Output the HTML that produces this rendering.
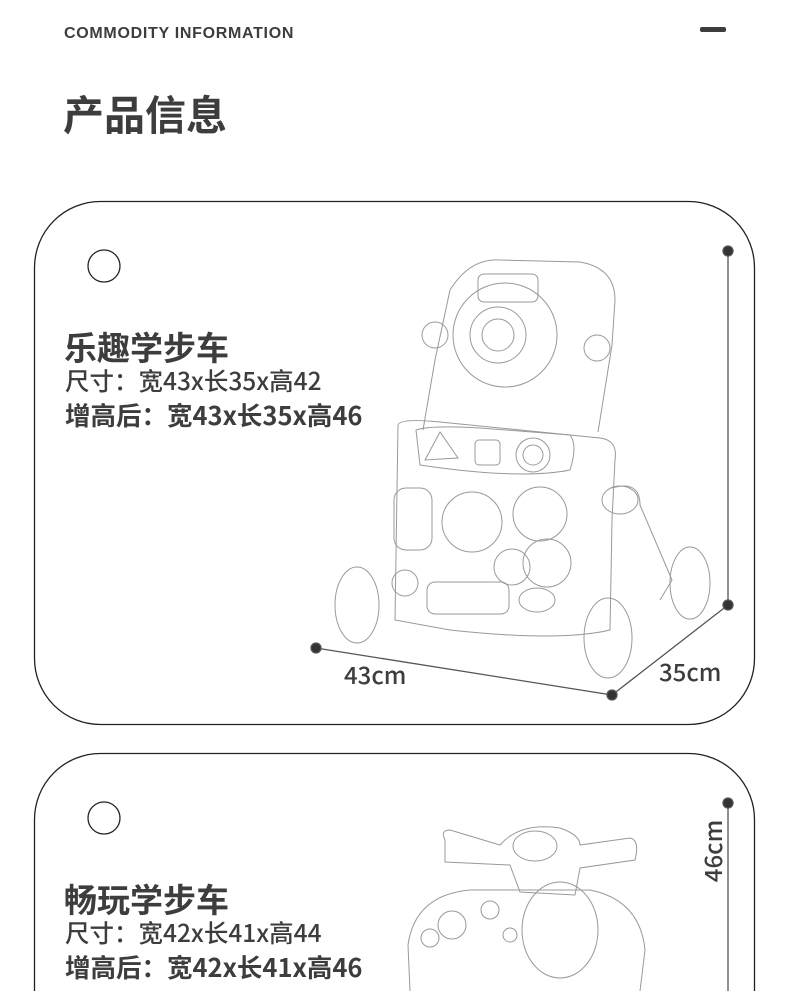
<!DOCTYPE html>
<html><head><meta charset="utf-8"><style>
html,body{margin:0;padding:0;background:#fff;}
body{width:790px;height:991px;overflow:hidden;position:relative;font-family:"Liberation Sans","Noto Sans CJK SC",sans-serif;color:#3d3d3d;}
.t{position:absolute;white-space:nowrap;line-height:1;}
.c{font-family:"Noto Sans CJK SC",sans-serif;}
</style></head><body>
<svg width="790" height="991" style="position:absolute;left:0;top:0" xmlns="http://www.w3.org/2000/svg">
<rect x="700" y="27" width="26" height="5" rx="2" fill="#3d3d3d"/>
<rect x="34.5" y="201.5" width="720" height="523" rx="66" fill="none" stroke="#222" stroke-width="1.3"/>
<rect x="34.5" y="753.5" width="720" height="400" rx="66" fill="none" stroke="#222" stroke-width="1.3"/>
<circle cx="104" cy="266" r="16" fill="none" stroke="#222" stroke-width="1.3"/>
<circle cx="104" cy="818" r="16" fill="none" stroke="#222" stroke-width="1.3"/>
<g stroke="#555" stroke-width="1.3" fill="#333">
<line x1="728" y1="251" x2="728" y2="605"/>
<line x1="316" y1="648" x2="612" y2="695"/>
<line x1="612" y1="695" x2="728" y2="605"/>
<circle cx="728" cy="251" r="5"/><circle cx="728" cy="605" r="5"/>
<circle cx="316" cy="648" r="5"/><circle cx="612" cy="695" r="5"/>
<line x1="728" y1="803" x2="728" y2="991"/>
<circle cx="728" cy="803" r="5"/>
</g>
<g fill="none" stroke="#999" stroke-width="1">
<path d="M450 290 Q470 258 500 260 L580 262 Q615 268 615 300 L612 345 L598 432"/>
<path d="M450 290 L435 360 L423 430"/>
<rect x="478" y="274" width="60" height="28" rx="6"/>
<circle cx="505" cy="335" r="52"/><circle cx="498" cy="335" r="28"/><circle cx="498" cy="335" r="16"/>
<circle cx="435" cy="335" r="13"/><circle cx="597" cy="348" r="13"/>
<path d="M398 425 Q400 418 440 422 L600 438 Q618 440 615 460 L612 520 L610 630 Q560 642 450 630 L395 620 Z"/>
<path d="M416 430 Q430 425 480 428 L570 435 Q578 445 570 470 Q520 480 420 465 Z"/>
<path d="M425 460 L440 432 L458 458 Z"/><rect x="475" y="440" width="25" height="25" rx="4"/><circle cx="533" cy="455" r="17"/><circle cx="533" cy="455" r="10"/>
<rect x="394" y="488" width="38" height="62" rx="12"/>
<circle cx="472" cy="522" r="30"/><circle cx="540" cy="514" r="27"/><circle cx="547" cy="563" r="24"/><circle cx="512" cy="567" r="18"/>
<circle cx="405" cy="583" r="13"/><rect x="427" y="582" width="82" height="32" rx="8"/><ellipse cx="537" cy="600" rx="18" ry="12"/>
<ellipse cx="357" cy="605" rx="22" ry="38"/><ellipse cx="608" cy="638" rx="24" ry="40"/><ellipse cx="690" cy="583" rx="20" ry="36"/>
<path d="M612 488 Q640 480 640 505 L672 580 L660 600"/><ellipse cx="620" cy="500" rx="18" ry="14"/>
</g>
<g fill="none" stroke="#999" stroke-width="1">
<path d="M445 840 Q440 830 450 830 L500 845 Q520 822 560 828 Q580 835 580 845 L630 838 Q640 840 635 860 L580 868 L575 895 L520 892 L510 865 L445 862 Z"/>
<ellipse cx="535" cy="846" rx="22" ry="15"/>
<path d="M410 991 L408 945 Q415 895 470 890 L590 890 Q640 900 645 950 L640 991"/>
<ellipse cx="560" cy="930" rx="38" ry="48"/>
<circle cx="452" cy="925" r="14"/><circle cx="430" cy="938" r="9"/><circle cx="490" cy="910" r="9"/><circle cx="510" cy="935" r="7"/>
</g>
</svg>
<div class="t" style="left:64px;top:26px;font-size:16px;font-weight:bold;letter-spacing:0.7px;">COMMODITY INFORMATION</div>
<div class="t c" style="left:63px;top:92px;font-size:41px;font-weight:bold;">产品信息</div>
<div class="t c" style="left:64px;top:330px;font-size:33px;font-weight:bold;">乐趣学步车</div>
<div class="t c" style="left:65px;top:369px;font-size:24.5px;font-weight:500;">尺寸：宽43x长35x高42</div>
<div class="t c" style="left:65px;top:402px;font-size:25.5px;font-weight:bold;">增高后：宽43x长35x高46</div>
<div class="t c" style="left:344px;top:662px;font-size:24px;font-weight:500;">43cm</div>
<div class="t c" style="left:659px;top:659px;font-size:24px;font-weight:500;">35cm</div>
<div class="t c" style="left:64px;top:882px;font-size:33px;font-weight:bold;">畅玩学步车</div>
<div class="t c" style="left:65px;top:921px;font-size:24.5px;font-weight:500;">尺寸：宽42x长41x高44</div>
<div class="t c" style="left:65px;top:954px;font-size:25.5px;font-weight:bold;">增高后：宽42x长41x高46</div>
<div class="t c" style="left:678px;top:839px;font-size:24px;font-weight:500;transform:rotate(-90deg);transform-origin:center;width:68px;text-align:center;">46cm</div>
</body></html>
